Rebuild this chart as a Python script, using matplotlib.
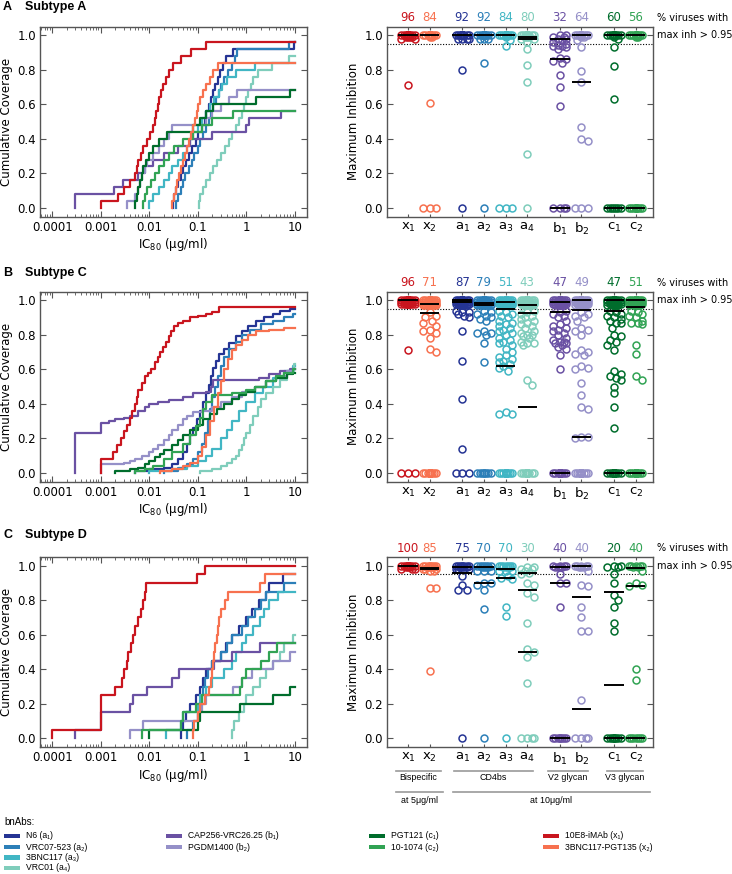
import numpy as np
import matplotlib
matplotlib.use("Agg")
import matplotlib.pyplot as plt
from matplotlib.patches import Rectangle
from matplotlib.transforms import blended_transform_factory

# antibodies, in the order of the swarm panels
keys = ["x1", "x2", "a1", "a2", "a3", "a4", "b1", "b2", "c1", "c2"]
names = ["10E8-iMAb", "3BNC117-PGT135", "N6", "VRC07-523", "3BNC117", "VRC01",
         "CAP256-VRC26.25", "PGDM1400", "PGT121", "10-1074"]
colors = ["#c9151e", "#f7714f", "#253494", "#2c7fb8", "#41b6c4", "#7fcdbb",
          "#6a51a3", "#9590c8", "#006d2c", "#31a354"]
positions = [0, 1, 2.5, 3.5, 4.5, 5.5, 7, 8, 9.5, 10.5]
tick_labels = [r"$\mathregular{x_1}$", r"$\mathregular{x_2}$", r"$\mathregular{a_1}$",
               r"$\mathregular{a_2}$", r"$\mathregular{a_3}$", r"$\mathregular{a_4}$",
               r"$\mathregular{b_1}$", r"$\mathregular{b_2}$", r"$\mathregular{c_1}$",
               r"$\mathregular{c_2}$"]
draw_order = ["a1", "a2", "a3", "a4", "b1", "b2", "c1", "c2", "x2", "x1"]

# ---------------- Subtype A (25 viruses) ----------------
n_A = 25
ic80_A = {
    "x1": [0.001, 0.0023, 0.003, 0.004, 0.005, 0.0055, 0.006, 0.0068, 0.0075, 0.009, 0.0105, 0.012,
           0.013, 0.014, 0.015, 0.016, 0.0175, 0.019, 0.022, 0.025, 0.031, 0.045, 0.073, 0.15],
    "x2": [0.029, 0.032, 0.035, 0.038, 0.042, 0.046, 0.05, 0.055, 0.06, 0.066, 0.072, 0.08, 0.088,
           0.095, 0.1, 0.11, 0.13, 0.15, 0.18, 0.21, 0.26],
    "a1": [0.031, 0.033, 0.036, 0.04, 0.045, 0.05, 0.058, 0.065, 0.075, 0.09, 0.1, 0.12, 0.14, 0.15,
           0.17, 0.19, 0.21, 0.23, 0.26, 0.29, 0.33, 0.38, 0.54, 9.5],
    "a2": [0.035, 0.04, 0.045, 0.05, 0.055, 0.065, 0.075, 0.085, 0.1, 0.11, 0.13, 0.15, 0.17, 0.19,
           0.21, 0.24, 0.27, 0.3, 0.35, 0.42, 0.5, 0.58, 0.65, 7.4],
    "a3": [0.01, 0.012, 0.016, 0.02, 0.025, 0.03, 0.04, 0.05, 0.06, 0.07, 0.08, 0.1, 0.12, 0.15,
           0.18, 0.22, 0.27, 0.32, 0.4, 0.6, 1.5],
    "a4": [0.105, 0.11, 0.13, 0.15, 0.18, 0.21, 0.25, 0.3, 0.36, 0.43, 0.5, 0.6, 0.7, 0.8, 0.9, 1.0,
           1.1, 1.25, 1.4, 1.7, 3.4, 7.4],
    "b1": [0.0003, 0.0003, 0.0019, 0.0029, 0.006, 0.008, 0.012, 0.02, 0.04, 0.07, 0.2, 1.0, 1.15, 5.2],
    "b2": [0.0035, 0.005, 0.006, 0.0065, 0.007, 0.008, 0.009, 0.012, 0.016, 0.02, 0.025, 0.03, 0.15,
           0.2, 0.3, 0.45, 0.64],
    "c1": [0.005, 0.0055, 0.006, 0.0065, 0.007, 0.0075, 0.0085, 0.01, 0.012, 0.016, 0.023, 0.08,
           0.11, 0.15, 0.21, 1.6, 8.0],
    "c2": [0.0075, 0.008, 0.009, 0.011, 0.013, 0.016, 0.02, 0.025, 0.032, 0.05, 0.08, 0.12, 0.2, 0.54],
}
maxinh_A = {
    "x1": [1.0] * 18 + [0.99] * 4 + [0.98] * 2 + [0.71],
    "x2": [1.0] * 19 + [0.99] * 2 + [0.61, 0, 0, 0],
    "a1": [1.0] * 19 + [0.98] * 4 + [0.80, 0],
    "a2": [1.0] * 20 + [0.98] * 3 + [0.84, 0],
    "a3": [1.0] * 19 + [0.99, 0.97, 0.94, 0, 0, 0],
    "a4": [1.0] * 14 + [0.99] * 3 + [0.98] * 2 + [0.96, 0.92, 0.83, 0.73, 0.31, 0],
    "b1": [1.0, 1.0, 0.99, 0.99, 0.98, 0.98, 0.97, 0.96, 0.95, 0.945, 0.94, 0.935, 0.93, 0.92, 0.87,
           0.86, 0.85, 0.84, 0.77, 0.70, 0.59, 0, 0, 0, 0],
    "b2": [1.0] * 13 + [0.99] * 2 + [0.97, 0.93, 0.79, 0.73, 0.47, 0.40, 0.39, 0, 0, 0],
    "c1": [1.0] * 13 + [0.99, 0.975, 0.93, 0.82, 0.63] + [0] * 7,
    "c2": [1.0] * 12 + [0.99] * 2 + [0] * 11,
}
medians_A = {"x1": [1.0], "x2": [1.0], "a1": [1.0], "a2": [1.0], "a3": [1.0], "a4": [0.99, 0.975],
             "b1": [0.975, 0.86, 0.0], "b2": [1.0, 0.73], "c1": [1.0, 0.0], "c2": [1.0, 0.0]}
pct_A = [96, 84, 92, 92, 84, 80, 32, 64, 60, 56]

# ---------------- Subtype C (cumulative coverage read as steps) ----------------
steps_C = {
    "x1": [(0.001, 0.08), (0.0018, 0.12), (0.0022, 0.16), (0.0026, 0.2), (0.003, 0.24), (0.0035, 0.28),
           (0.004, 0.32), (0.0045, 0.36), (0.005, 0.4), (0.0055, 0.44), (0.006, 0.48), (0.007, 0.52),
           (0.008, 0.56), (0.0095, 0.58), (0.011, 0.6), (0.013, 0.64), (0.015, 0.67), (0.017, 0.7),
           (0.019, 0.73), (0.022, 0.76), (0.025, 0.79), (0.028, 0.82), (0.032, 0.85), (0.04, 0.87),
           (0.05, 0.88), (0.07, 0.9), (0.1, 0.91), (0.15, 0.92), (0.2, 0.93), (0.28, 0.96)],
    "x2": [(0.017, 0.01), (0.03, 0.02), (0.05, 0.04), (0.07, 0.06), (0.1, 0.1), (0.12, 0.15), (0.15, 0.22),
           (0.18, 0.3), (0.22, 0.38), (0.26, 0.46), (0.3, 0.53), (0.35, 0.6), (0.42, 0.66), (0.5, 0.71),
           (0.6, 0.74), (0.8, 0.77), (1.1, 0.8), (1.6, 0.82), (3.0, 0.83), (6.0, 0.84)],
    "a1": [(0.005, 0.01), (0.01, 0.02), (0.02, 0.03), (0.03, 0.05), (0.04, 0.08), (0.05, 0.12), (0.06, 0.17),
           (0.07, 0.22), (0.08, 0.26), (0.095, 0.31), (0.11, 0.36), (0.13, 0.41), (0.15, 0.46), (0.17, 0.51),
           (0.19, 0.56), (0.21, 0.61), (0.24, 0.65), (0.28, 0.69), (0.35, 0.72), (0.45, 0.75), (0.6, 0.79),
           (0.8, 0.82), (1.1, 0.85), (1.6, 0.88), (2.3, 0.9), (3.5, 0.92), (5.0, 0.935), (8.0, 0.95)],
    "a2": [(0.02, 0.01), (0.04, 0.03), (0.06, 0.05), (0.08, 0.08), (0.1, 0.12), (0.12, 0.17), (0.14, 0.23),
           (0.16, 0.3), (0.18, 0.37), (0.2, 0.44), (0.23, 0.5), (0.26, 0.56), (0.3, 0.62), (0.35, 0.67),
           (0.45, 0.72), (0.6, 0.76), (0.8, 0.8), (1.2, 0.83), (2.0, 0.86), (3.5, 0.88), (6.0, 0.9), (9.0, 0.92)],
    "a3": [(0.01, 0.01), (0.03, 0.02), (0.06, 0.04), (0.1, 0.07), (0.15, 0.1), (0.2, 0.14), (0.3, 0.2),
           (0.4, 0.25), (0.5, 0.3), (0.7, 0.36), (1.0, 0.41), (1.5, 0.46), (2.2, 0.5), (3.5, 0.55),
           (6.0, 0.59), (9.0, 0.62)],
    "a4": [(0.11, 0.01), (0.2, 0.02), (0.3, 0.04), (0.4, 0.06), (0.5, 0.08), (0.6, 0.1), (0.7, 0.13),
           (0.8, 0.16), (0.9, 0.2), (1.0, 0.23), (1.2, 0.28), (1.4, 0.33), (1.7, 0.38), (2.0, 0.43),
           (2.5, 0.46), (3.5, 0.5), (5.0, 0.54), (7.0, 0.59), (9.5, 0.63)],
    "b1": [(0.0003, 0.23), (0.001, 0.29), (0.0015, 0.3), (0.002, 0.31), (0.003, 0.32), (0.004, 0.33),
           (0.006, 0.36), (0.008, 0.38), (0.01, 0.4), (0.015, 0.41), (0.025, 0.42), (0.05, 0.44),
           (0.08, 0.46), (0.15, 0.47), (0.19, 0.5), (0.21, 0.54), (1.8, 0.55), (3.0, 0.57), (5.0, 0.59),
           (8.0, 0.6)],
    "b2": [(0.001, 0.05), (0.003, 0.06), (0.004, 0.07), (0.005, 0.08), (0.007, 0.1), (0.01, 0.12),
           (0.012, 0.14), (0.015, 0.16), (0.02, 0.19), (0.025, 0.22), (0.03, 0.25), (0.04, 0.28),
           (0.05, 0.31), (0.06, 0.33), (0.08, 0.35), (0.12, 0.36), (0.2, 0.38), (0.3, 0.41), (0.5, 0.44),
           (0.8, 0.47), (1.5, 0.5), (2.5, 0.53), (4.0, 0.56), (7.0, 0.59), (9.0, 0.6)],
    "c1": [(0.002, 0.01), (0.004, 0.02), (0.006, 0.03), (0.008, 0.05), (0.01, 0.07), (0.013, 0.09),
           (0.017, 0.11), (0.02, 0.13), (0.03, 0.16), (0.04, 0.19), (0.05, 0.22), (0.07, 0.25), (0.1, 0.28),
           (0.13, 0.31), (0.18, 0.34), (0.25, 0.37), (0.35, 0.4), (0.5, 0.43), (0.7, 0.45), (1.0, 0.47),
           (1.5, 0.5), (2.5, 0.53), (4.0, 0.55), (7.0, 0.57), (9.0, 0.58)],
    "c2": [(0.005, 0.01), (0.008, 0.02), (0.012, 0.04), (0.02, 0.08), (0.03, 0.12), (0.05, 0.17),
           (0.07, 0.22), (0.09, 0.27), (0.11, 0.32), (0.13, 0.37), (0.15, 0.41), (0.2, 0.45), (0.5, 0.46),
           (1.0, 0.48), (1.5, 0.5), (2.5, 0.53), (4.0, 0.56), (6.0, 0.58), (9.0, 0.6)],
}
maxinh_C = {
    "x1": [1.0] * 70 + [0.99] * 16 + [0.98] * 10 + [0.71, 0, 0, 0],
    "x2": [1.0] * 40 + [0.99] * 12 + [0.98] * 10 + [0.97] * 9
          + [0.93, 0.91, 0.9, 0.88, 0.87, 0.85, 0.83, 0.82, 0.81, 0.78, 0.72, 0.70] + [0] * 17,
    "a1": [1.0] * 60 + [0.99] * 15 + [0.98] * 8 + [0.97] * 4
          + [0.94, 0.93, 0.93, 0.92, 0.91, 0.9, 0.82, 0.65, 0.43, 0.14, 0, 0, 0],
    "a2": [1.0] * 45 + [0.99] * 14 + [0.98] * 12 + [0.97] * 8
          + [0.94, 0.93, 0.92, 0.91, 0.9, 0.89, 0.88, 0.82, 0.81, 0.81, 0.80, 0.75, 0.64] + [0] * 8,
    "a3": [1.0] * 28 + [0.99] * 10 + [0.98] * 7 + [0.97] * 6
          + [0.94, 0.93, 0.92, 0.91, 0.9, 0.88, 0.87, 0.86, 0.85, 0.84, 0.83, 0.82, 0.81, 0.8, 0.78, 0.77,
             0.76, 0.75, 0.74, 0.72, 0.7, 0.68, 0.67, 0.66, 0.65, 0.64, 0.63, 0.62, 0.61, 0.59, 0.35, 0.34,
             0.34] + [0] * 16,
    "a4": [1.0] * 22 + [0.99] * 9 + [0.98] * 7 + [0.97] * 5
          + [0.94, 0.93, 0.92, 0.91, 0.9, 0.89, 0.88, 0.87, 0.86, 0.85, 0.84, 0.82, 0.81, 0.80, 0.80, 0.79,
             0.78, 0.76, 0.75, 0.75, 0.74, 0.54, 0.51] + [0] * 34,
    "b1": [1.0] * 25 + [0.99] * 10 + [0.98] * 7 + [0.97] * 5
          + [0.94, 0.93, 0.92, 0.91, 0.9, 0.88, 0.86, 0.85, 0.84, 0.83, 0.82, 0.81, 0.8, 0.78, 0.77, 0.76,
             0.76, 0.75, 0.75, 0.74, 0.73, 0.72, 0.68, 0.6] + [0] * 29,
    "b2": [1.0] * 28 + [0.99] * 10 + [0.98] * 6 + [0.97] * 5
          + [0.93, 0.92, 0.91, 0.9, 0.88, 0.84, 0.83, 0.82, 0.8, 0.71, 0.7, 0.69, 0.68, 0.62, 0.61, 0.6,
             0.52, 0.45, 0.38, 0.37, 0.21, 0.21, 0.2] + [0] * 28,
    "c1": [1.0] * 26 + [0.99] * 10 + [0.98] * 6 + [0.97] * 5
          + [0.94, 0.93, 0.92, 0.91, 0.9, 0.89, 0.88, 0.87, 0.87, 0.84, 0.8, 0.79, 0.77, 0.76, 0.74, 0.71,
             0.59, 0.57, 0.56, 0.55, 0.54, 0.5, 0.46, 0.38, 0.26] + [0] * 28,
    "c2": [1.0] * 30 + [0.99] * 10 + [0.98] * 6 + [0.97] * 5
          + [0.94, 0.93, 0.92, 0.91, 0.9, 0.88, 0.87, 0.87, 0.86, 0.74, 0.69, 0.56, 0.54] + [0] * 36,
}
medians_C = {"x1": [1.0], "x2": [0.98, 0.925], "a1": [1.0, 0.99], "a2": [0.985, 0.97],
             "a3": [0.99, 0.95, 0.62], "a4": [0.97, 0.925, 0.38], "b1": [0.99, 0.93, 0.0],
             "b2": [1.0, 0.945, 0.21], "c1": [1.0, 0.935, 0.0], "c2": [1.0, 0.96, 0.0]}
pct_C = [96, 71, 87, 79, 51, 43, 47, 49, 47, 51]

# ---------------- Subtype D (20 viruses) ----------------
n_D = 20
ic80_D = {
    "x1": [0.0001, 0.001, 0.001, 0.001, 0.001, 0.002, 0.0027, 0.003, 0.0035, 0.0037, 0.0043, 0.0047,
           0.005, 0.0058, 0.0068, 0.0073, 0.008, 0.0087, 0.095, 0.14],
    "x2": [0.078, 0.085, 0.1, 0.11, 0.14, 0.17, 0.19, 0.2, 0.21, 0.22, 0.23, 0.25, 0.26, 0.27, 0.3,
           0.36, 0.42, 1.9, 2.4],
    "a1": [0.046, 0.05, 0.058, 0.07, 0.09, 0.11, 0.13, 0.15, 0.2, 0.3, 0.39, 0.5, 0.7, 1.0, 1.3, 1.8,
           2.5, 3.0, 5.8],
    "a2": [0.06, 0.08, 0.1, 0.11, 0.12, 0.13, 0.14, 0.16, 0.2, 0.3, 0.4, 0.5, 0.8, 1.1, 1.5, 2.0, 2.6, 6.0],
    "a3": [0.022, 0.045, 0.05, 0.1, 0.11, 0.15, 0.2, 0.35, 0.5, 0.6, 0.8, 1.0, 1.4, 1.9, 2.3, 3.0, 4.5],
    "a4": [0.5, 0.55, 0.7, 0.9, 1.0, 1.4, 1.9, 2.5, 3.5, 5.0, 6.0, 9.0],
    "b1": [0.0003, 0.001, 0.001, 0.004, 0.0047, 0.0088, 0.03, 0.042, 0.22, 0.5, 1.9],
    "b2": [0.004, 0.0075, 0.1, 0.12, 0.15, 0.53, 0.8, 1.3, 3.5, 8.0],
    "c1": [0.01, 0.1, 0.11, 0.75, 3.5, 8.0],
    "c2": [0.007, 0.045, 0.05, 0.09, 0.12, 0.75, 0.8, 1.0, 2.0, 3.0, 4.2],
}
maxinh_D = {
    "x1": [1.0] * 14 + [0.99] * 3 + [0.98] * 3,
    "x2": [1.0] * 8 + [0.99] * 4 + [0.98] * 3 + [0.97] * 2 + [0.87, 0.87, 0.39],
    "a1": [1.0] * 8 + [0.99] * 4 + [0.98] * 3 + [0.94, 0.89, 0.86, 0.86, 0],
    "a2": [1.0] * 7 + [0.99] * 4 + [0.97] * 3 + [0.9, 0.9, 0.89, 0.86, 0.75, 0],
    "a3": [1.0] * 7 + [0.99] * 4 + [0.97] * 3 + [0.94, 0.93, 0.92, 0.76, 0.71, 0],
    "a4": [0.99, 0.99, 0.98, 0.98, 0.97, 0.96, 0.95, 0.9, 0.89, 0.84, 0.82, 0.67, 0.52, 0.5, 0.47, 0.32,
           0, 0, 0, 0],
    "b1": [1.0] * 4 + [0.99] * 4 + [0.95, 0.9, 0.9, 0.76] + [0] * 8,
    "b2": [1.0] * 5 + [0.99] * 3 + [0.97, 0.89, 0.88, 0.76, 0.7, 0.62, 0.62, 0.22, 0, 0, 0, 0],
    "c1": [1.0, 1.0, 0.99, 0.99, 0.95, 0.9, 0.83, 0.8, 0.76, 0.67, 0.62] + [0] * 9,
    "c2": [1.0] * 5 + [0.99] * 2 + [0.97, 0.9, 0.89, 0.88, 0.4, 0.34] + [0] * 7,
}
medians_D = {"x1": [1.0], "x2": [0.985, 0.98], "a1": [0.99, 0.96], "a2": [0.995, 0.9],
             "a3": [0.98, 0.93], "a4": [0.955, 0.86, 0.5], "b1": [0.99, 0.9, 0.0],
             "b2": [1.0, 0.82, 0.17], "c1": [0.85, 0.31, 0.0], "c2": [0.985, 0.885, 0.0]}
pct_D = [100, 85, 75, 70, 70, 30, 40, 40, 20, 40]

W, H = 732, 874
fig = plt.figure(figsize=(W / 100, H / 100), dpi=100)
frame_col = "#555555"


def rect(x0, top, w, h):
    return [x0 / W, 1 - (top + h) / H, w / W, h / H]


def style_axes(ax):
    for s in ax.spines.values():
        s.set_color(frame_col)
        s.set_linewidth(1.0)
    ax.tick_params(which="both", direction="in", top=True, right=True, color=frame_col,
                   labelsize=8.5, pad=3)
    ax.tick_params(which="major", length=4)
    ax.tick_params(which="minor", length=2)


def coverage_axes(top, curves):
    ax = fig.add_axes(rect(40, top, 267, 190))
    style_axes(ax)
    ax.set_xscale("log")
    for k in draw_order:
        xs, ys = curves[k]
        ax.step(xs, ys, where="post", color=colors[keys.index(k)], lw=1.6)
    ax.set_xlim(10 ** -4.25, 10 ** 1.25)
    ax.set_ylim(-0.05, 1.05)
    ax.set_xticks([1e-4, 1e-3, 1e-2, 1e-1, 1, 10])
    ax.set_xticklabels(["0.0001", "0.001", "0.01", "0.1", "1", "10"])
    ax.set_yticks(np.arange(0, 1.01, 0.2))
    ax.set_yticklabels(["%.1f" % v for v in np.arange(0, 1.01, 0.2)])
    ax.set_xlabel("IC$_{80}$ (μg/ml)", fontsize=8.5, labelpad=2)
    ax.set_ylabel("Cumulative Coverage", fontsize=8.5, labelpad=3)
    return ax


def from_ic80(vals, n):
    v = sorted(vals)
    cov = list(np.arange(1, len(v) + 1) / n)
    return [v[0]] + v + [10], [0] + cov + [cov[-1]]


def from_steps(pairs):
    xs = [p[0] for p in pairs]
    ys = [p[1] for p in pairs]
    return [xs[0]] + xs + [10], [0] + ys + [ys[-1]]


def swarm(vals, sx, sy, diam=6.6, half=7.4):
    step = diam / 3.0
    cands = [0.0]
    k = 1
    while k * step <= half + 1e-9:
        cands += [k * step, -k * step]
        k += 1
    placed = []
    out = []
    for v in vals:
        y = v * sy
        best, best_d = 0.0, -1.0
        for c in cands:
            d = min((np.hypot(c - px, y - py) for px, py in placed), default=np.inf)
            if d >= diam:
                best = c
                break
            if d > best_d:
                best, best_d = c, d
        placed.append((best, y))
        out.append(best / sx)
    return np.array(out)


def inhibition_axes(top, maxinh, medians, pct):
    ax = fig.add_axes(rect(387, top, 266, 190))
    style_axes(ax)
    xlim = (-0.97, 11.3)
    ax.set_xlim(*xlim)
    ax.set_ylim(-0.05, 1.05)
    sx = 266 / (xlim[1] - xlim[0])
    sy = 190 / 1.1
    ax.axhline(0.95, color="k", lw=0.8, ls=(0, (1, 1.5)), zorder=1)
    trans = blended_transform_factory(ax.transData, ax.transAxes)
    for i, k in enumerate(keys):
        vals = sorted(maxinh[k], reverse=True)
        offs = swarm(vals, sx, sy)
        ax.plot(positions[i] + offs, vals, "o", mfc="none", mec=colors[i], ms=5, mew=1.1,
                zorder=2, clip_on=False)
        for m in medians[k]:
            ax.plot([positions[i] - 0.45, positions[i] + 0.45], [m, m], color="k", lw=1.4,
                    zorder=3, solid_capstyle="butt")
        ax.text(positions[i], 1.045, str(pct[i]), transform=trans, ha="center", va="center",
                color=colors[i], fontsize=8.5)
    ax.text(1.015, 1.045, "% viruses with", transform=ax.transAxes, fontsize=7, va="center")
    ax.text(1.015, 0.955, "max inh > 0.95", transform=ax.transAxes, fontsize=7, va="center")
    ax.set_xticks(positions)
    ax.set_xticklabels(tick_labels, fontsize=9.5)
    ax.tick_params(axis="x", length=2.5)
    ax.set_yticks(np.arange(0, 1.01, 0.2))
    ax.set_yticklabels(["%.1f" % v for v in np.arange(0, 1.01, 0.2)])
    ax.set_ylabel("Maximum Inhibition", fontsize=8.5, labelpad=3)
    return ax


title_font = ["Liberation Sans", "DejaVu Sans"]
for letter, sub, ypx in [("A", "Subtype A", 7), ("B", "Subtype C", 273), ("C", "Subtype D", 535)]:
    fig.text(3 / W, 1 - ypx / H, letter, fontsize=9, fontweight="bold", family=title_font, va="center")
    fig.text(25 / W, 1 - ypx / H, sub, fontsize=9, fontweight="bold", family=title_font, va="center")

coverage_axes(26.5, {k: from_ic80(ic80_A[k], n_A) for k in keys})
inhibition_axes(26.5, maxinh_A, medians_A, pct_A)
coverage_axes(291.5, {k: from_steps(steps_C[k]) for k in keys})
inhibition_axes(291.5, maxinh_C, medians_C, pct_C)
coverage_axes(557, {k: from_ic80(ic80_D[k], n_D) for k in keys})
axD = inhibition_axes(557, maxinh_D, medians_D, pct_D)

# group annotations under the last swarm panel
small_font = ["Liberation Sans Narrow", "Liberation Sans", "DejaVu Sans"]
tr = blended_transform_factory(axD.transData, axD.transAxes)
groups = [("Bispecific", -0.55, 1.5), ("CD4bs", 2.1, 5.75), ("V2 glycan", 6.45, 8.3),
          ("V3 glycan", 9.17, 10.83)]
for label, x0, x1 in groups:
    axD.plot([x0, x1], [-0.126, -0.126], transform=tr, color="#999999", lw=1.2, clip_on=False)
    axD.text((x0 + x1) / 2, -0.163, label, transform=tr, ha="center", va="center",
             fontsize=6.4, family=small_font)
doses = [("at 5μg/ml", -0.55, 1.6), ("at 10μg/ml", 2.07, 11.15)]
for label, x0, x1 in doses:
    axD.plot([x0, x1], [-0.237, -0.237], transform=tr, color="#999999", lw=1.2, clip_on=False)
    axD.text((x0 + x1) / 2, -0.284, label, transform=tr, ha="center", va="center",
             fontsize=6.4, family=small_font)

# legend
leg_font = ["Liberation Sans", "DejaVu Sans"]
fig.text(4 / W, 1 - 822 / H, "bnAbs:", fontsize=7, family=leg_font, va="center")
subs = {"1": "\u2081", "2": "\u2082", "3": "\u2083", "4": "\u2084"}
legend_cols = [(["a1", "a2", "a3", "a4"], 4), (["b1", "b2"], 166), (["c1", "c2"], 369),
               (["x1", "x2"], 543)]
row_y = [836, 847, 857.5, 868]
for ks, x0 in legend_cols:
    for j, k in enumerate(ks):
        i = keys.index(k)
        y = row_y[j]
        fig.add_artist(Rectangle((x0 / W, 1 - (y + 2.3) / H), 16 / W, 4.6 / H,
                                 transform=fig.transFigure, color=colors[i], lw=0))
        fig.text((x0 + 22) / W, 1 - y / H, "%s (%s%s)" % (names[i], k[0], subs[k[1]]),
                 fontsize=6.2, family=leg_font, va="center")

fig.savefig("out.png", dpi=100)
